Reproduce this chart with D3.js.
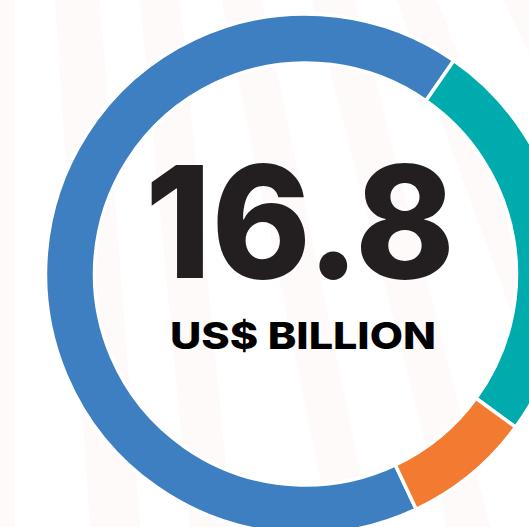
<!DOCTYPE html>
<html>
<head>
<meta charset="utf-8">
<script src="https://cdn.jsdelivr.net/npm/d3@7"></script>
<style>
  html, body { margin: 0; padding: 0; background: #ffffff; overflow: hidden; }
  svg { display: block; }
</style>
</head>
<body>
<svg id="chart" width="529" height="527"></svg>
<script>
// ---- data ----
const categories = ["Segment A", "Segment B", "Segment C"];
const values = [11.2, 4.26, 1.34];
const colors = ["#3d7fc0", "#00abae", "#f37b31"];
const totalLabel = "16.8";
const unitLabel = "US$ BILLION";

// faint background stripes: [topX0, topX1, bottomX0, bottomX1]
const stripes = [
  [0, 15, 0, 15],
  [55, 100, 90, 140],
  [140, 180, 190, 232],
  [222, 262, 330, 372],
  [312, 355, 447, 490],
  [397, 437, 590, 640],
  [503, 560, 760, 820]
];

const W = 529, H = 527;
const cx = 305.5, cy = 274;
const rOuter = 260, rInner = 211;

const svg = d3.select("#chart");

// background stripes
svg.append("g").selectAll("polygon")
  .data(stripes)
  .join("polygon")
  .attr("points", d => `${d[0]},0 ${d[1]},0 ${d[3]},${H} ${d[2]},${H}`)
  .attr("fill", "#fefaf9");

const start = 154.8 * Math.PI / 180;
const pie = d3.pie().sort(null).startAngle(start).endAngle(start + 2 * Math.PI);
const arc = d3.arc().innerRadius(rInner).outerRadius(rOuter);

const g = svg.append("g").attr("transform", `translate(${cx},${cy})`);

g.selectAll("path")
  .data(pie(values))
  .join("path")
  .attr("d", arc)
  .attr("fill", (d, i) => colors[i])
  .attr("stroke", "#ffffff")
  .attr("stroke-width", 3.5)
  .attr("stroke-linejoin", "miter");

svg.append("text")
  .attr("x", 300)
  .attr("y", 278)
  .attr("text-anchor", "middle")
  .attr("font-family", "Inter, 'Noto Sans', sans-serif")
  .attr("font-weight", 800)
  .attr("font-size", 156)
  .attr("fill", "#231f20")
  .attr("textLength", 310)
  .attr("lengthAdjust", "spacingAndGlyphs")
  .text(totalLabel);

svg.append("text")
  .attr("x", 303)
  .attr("y", 349)
  .attr("text-anchor", "middle")
  .attr("font-family", "Inter, 'Noto Sans', sans-serif")
  .attr("font-weight", 800)
  .attr("font-size", 37)
  .attr("fill", "#000000")
  .attr("textLength", 266)
  .attr("lengthAdjust", "spacingAndGlyphs")
  .text(unitLabel);
</script>
</body>
</html>
